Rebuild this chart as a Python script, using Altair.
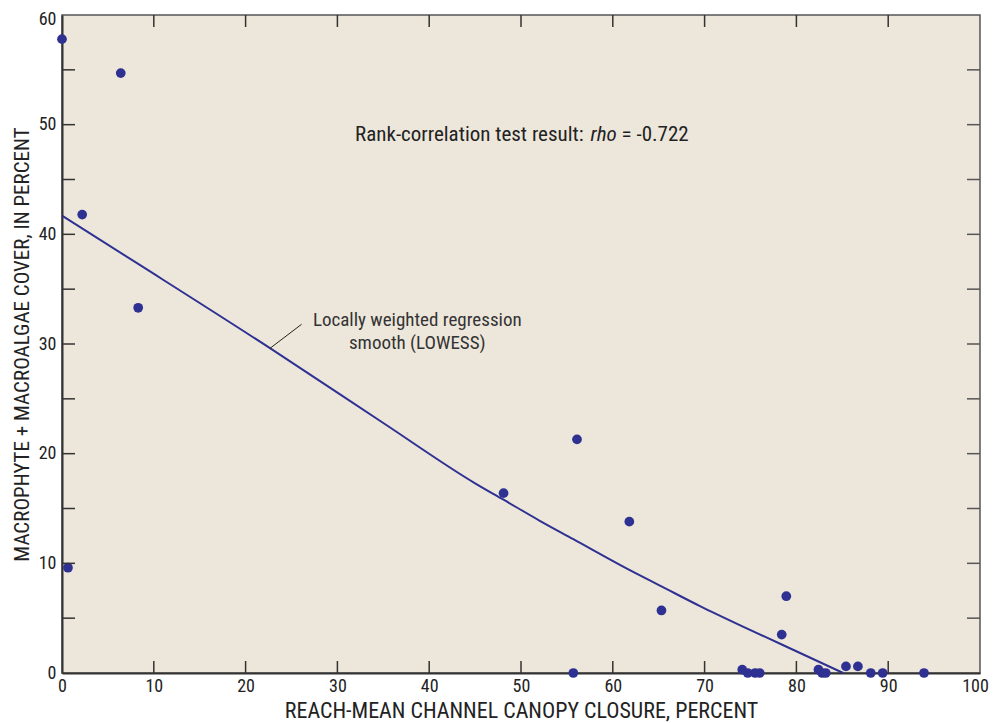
import altair as alt
import pandas as pd

# Scatter data (canopy closure %, macrophyte + macroalgae cover %)
canopy = [0.0, 6.4, 2.2, 8.3, 0.65, 48.1, 56.1, 55.7, 61.8, 65.3, 74.1, 74.7, 75.5, 76.0,
          78.4, 78.9, 82.4, 82.8, 83.2, 85.4, 86.7, 88.1, 89.4, 93.9]
cover = [57.8, 54.7, 41.8, 33.3, 9.6, 16.4, 21.3, 0.0, 13.8, 5.7, 0.3, 0.0, 0.0, 0.0,
         3.5, 7.0, 0.3, 0.0, 0.0, 0.6, 0.6, 0.0, 0.0, 0.0]

# LOWESS smooth
lowess_x = [0.0, 8.3, 22.7, 35.0, 45.0, 48.1, 52.0, 55.7, 61.8, 65.3, 69.5, 74.0, 78.4, 85.1]
lowess_y = [41.7, 37.3, 29.6, 22.8, 17.3, 15.8, 13.9, 12.2, 9.4, 7.9, 6.1, 4.3, 2.6, 0.0]

x_ticks = [10, 20, 30, 40, 50, 60, 70, 80, 90]
y_ticks = [5, 10, 15, 20, 25, 30, 35, 40, 45, 50, 55]
x_labels = [0, 10, 20, 30, 40, 50, 60, 70, 80, 90, 100]
y_labels = [0, 10, 20, 30, 40, 50, 60]

W, H = 918, 658
FONT = "Liberation Sans Narrow, Roboto Condensed, DejaVu Sans Condensed, Arial Narrow, sans-serif"
BLUE = "#2e3192"

xs = alt.Scale(domain=[0, 100], nice=False, zero=False)
ys = alt.Scale(domain=[0, 60], nice=False, zero=False)

pts = pd.DataFrame({"x": canopy, "y": cover})
low = pd.DataFrame({"x": lowess_x, "y": lowess_y})

base_axes = alt.Chart(pts).mark_point(opacity=0).encode(
    x=alt.X("x:Q", scale=xs,
            axis=alt.Axis(values=x_labels, title="REACH-MEAN CHANNEL CANOPY CLOSURE, PERCENT",
                          ticks=False, grid=False, labelFlush=False, labelOverlap=False,
                          labelOffset=alt.ExprRef("datum.value == 100 ? -5 : 0"),
                          labelFontSize=18, titleFontSize=22, labelPadding=4, titlePadding=5,
                          domainColor="#333333", domainWidth=2, titleFontWeight="normal",
                          labelColor="#222222", titleColor="#222222")),
    y=alt.Y("y:Q", scale=ys,
            axis=alt.Axis(values=y_labels, title="MACROPHYTE + MACROALGAE COVER, IN PERCENT",
                          ticks=False, grid=False, labelFlush=False, labelOverlap=False,
                          labelOffset=alt.ExprRef("datum.value == 60 ? 4 : 0"),
                          labelFontSize=18, titleFontSize=21, labelPadding=6, titlePadding=6,
                          domainColor="#333333", domainWidth=2, titleFontWeight="normal",
                          labelColor="#222222", titleColor="#222222")),
)

line = alt.Chart(low).mark_line(color=BLUE, strokeWidth=2, interpolate="monotone").encode(
    x=alt.X("x:Q", scale=xs), y=alt.Y("y:Q", scale=ys))

dots = alt.Chart(pts).mark_circle(color=BLUE, size=95, opacity=1).encode(
    x=alt.X("x:Q", scale=xs), y=alt.Y("y:Q", scale=ys))

xt = pd.DataFrame({"t": x_ticks})
yt = pd.DataFrame({"t": y_ticks})
tick_col = "#333333"
bot = alt.Chart(xt).mark_rule(color=tick_col, strokeWidth=1.5).encode(
    x=alt.X("t:Q", scale=xs), y=alt.value(H), y2=alt.value(H - 12))
top = alt.Chart(xt).mark_rule(color=tick_col, strokeWidth=1.5).encode(
    x=alt.X("t:Q", scale=xs), y=alt.value(0), y2=alt.value(12))
left = alt.Chart(yt).mark_rule(color=tick_col, strokeWidth=1.5).encode(
    y=alt.Y("t:Q", scale=ys), x=alt.value(0), x2=alt.value(13))
right = alt.Chart(yt).mark_rule(color="#555555", strokeWidth=1.5).encode(
    y=alt.Y("t:Q", scale=ys), x=alt.value(W), x2=alt.value(W - 13))

# leader line for annotation
leader = pd.DataFrame({"x": [22.65], "y": [29.6], "x2": [26.1], "y2": [31.8]})
lead = alt.Chart(leader).mark_rule(color="#222222", strokeWidth=1).encode(
    x=alt.X("x:Q", scale=xs), y=alt.Y("y:Q", scale=ys), x2="x2:Q", y2="y2:Q")

ann = pd.DataFrame({"x": [38.7, 38.7], "y": [32.2, 30.1],
                    "t": ["Locally weighted regression", "smooth (LOWESS)"]})
ann_text = alt.Chart(ann).mark_text(font=FONT, fontSize=19, color="#333333",
                                    align="center", baseline="middle").encode(
    x=alt.X("x:Q", scale=xs), y=alt.Y("y:Q", scale=ys), text="t:N")

rho_df = pd.DataFrame({"x": [59.0], "y": [49.1]})
rho_a = alt.Chart(rho_df).mark_text(font=FONT, fontSize=21, color="#222222", align="right",
                                    baseline="middle", dx=-20,
                                    text="Rank-correlation test result:").encode(
    x=alt.X("x:Q", scale=xs), y=alt.Y("y:Q", scale=ys))
rho_b = alt.Chart(rho_df).mark_text(font=FONT, fontSize=21, color="#222222", align="center",
                                    baseline="middle", fontStyle="italic", text="rho").encode(
    x=alt.X("x:Q", scale=xs), y=alt.Y("y:Q", scale=ys))
rho_c = alt.Chart(rho_df).mark_text(font=FONT, fontSize=21, color="#222222", align="left",
                                    baseline="middle", dx=18, text="= -0.722").encode(
    x=alt.X("x:Q", scale=xs), y=alt.Y("y:Q", scale=ys))

chart = alt.layer(base_axes, line, dots, bot, top, left, right, lead, ann_text,
                  rho_a, rho_b, rho_c).properties(
    width=W, height=H,
    autosize=alt.AutoSizeParams(type="none"),
    padding={"left": 54, "top": 7, "right": 9, "bottom": 50},
    background="white",
).configure_view(
    fill="#ede7db", stroke="#555555", strokeWidth=1.5
).configure_axis(
    labelFont=FONT, titleFont=FONT
)

chart.save("out.html", embed_options={"renderer": "svg", "actions": False})
